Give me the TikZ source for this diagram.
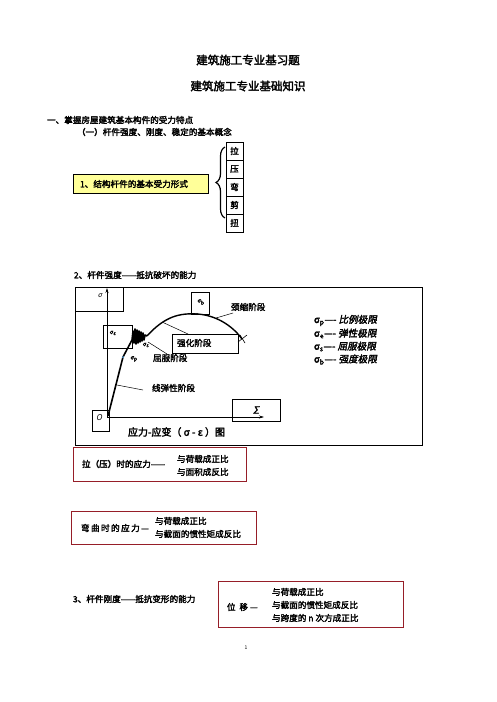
\documentclass[tikz,border=0pt]{standalone}
\usepackage{fontspec}
\setmainfont{Noto Sans CJK SC}[AutoFakeBold=2.4,AutoFakeSlant=0.2]
\usetikzlibrary{arrows.meta,decorations.pathreplacing}
\definecolor{boxred}{RGB}{150,30,40}
\definecolor{paleyellow}{RGB}{255,255,153}
\definecolor{dotblue}{RGB}{90,170,230}
\tikzset{
  every node/.style={inner sep=0pt,outer sep=0pt},
  ttl/.style={font=\fontsize{11.5}{13}\selectfont\bfseries},
  txt/.style={anchor=west,font=\fontsize{8.6}{10}\selectfont\bfseries},
  small/.style={font=\fontsize{6}{7}\selectfont\bfseries},
  legend/.style={anchor=west,font=\fontsize{9.6}{11}\selectfont\bfseries},
  frame/.style={draw,line width=0.6pt},
  cell/.style={draw,line width=0.6pt,minimum width=17pt,minimum height=18pt,font=\fontsize{8.6}{10}\selectfont\bfseries},
  redbox/.style={draw=boxred,line width=0.9pt},
  leader/.style={line width=0.5pt},
  curveline/.style={line width=1.6pt,line join=round},
  axis/.style={line width=0.6pt,-{Stealth[length=5pt,width=3pt]}},
}
\begin{document}
\begin{tikzpicture}[x=1pt,y=-1pt]
\useasboundingbox (0,0) rectangle (496,702);
% titles
\node[ttl] (t1) at (248,60) {建筑施工专业基习题};
\node[ttl] (t2) at (248,86) {建筑施工专业基础知识};
\node[txt] (h1) at (47,120) {一、掌握房屋建筑基本构件的受力特点};
\node[txt] (h2) at (77,132) {（一）杆件强度、刚度、稳定的基本概念};
% force forms
\node[draw,fill=paleyellow,line width=0.6pt,minimum width=135pt,minimum height=19pt] (yb) at (140.5,184) {};
\node[txt] (ybt) at (80,184) {1、结构杆件的基本受力形式};
\node[cell] (c1) at (234.5,151) {拉};
\node[cell] (c2) at (234.5,169) {压};
\node[cell] (c3) at (234.5,187) {弯};
\node[cell] (c4) at (234.5,205) {剪};
\node[cell] (c5) at (234.5,223) {扭};
\coordinate (brb) at (225,218);
\coordinate (brt) at (225,147);
\draw[decorate,decoration={brace,amplitude=9pt},line width=1.2pt] (brb) -- (brt);
% section 2
\node[txt] (h3) at (74,275) {2、杆件强度——抵抗破坏的能力};
\node[frame,minimum width=347pt,minimum height=158pt] (outer) at (248.5,366) {};
\node[frame,minimum width=48pt,minimum height=24pt] (sbox) at (99,299) {};
\node[small,font=\fontsize{7}{8}\selectfont\itshape] (slab) at (100,296) {σ};
\node[frame,minimum width=29pt,minimum height=23pt] (sebox) at (117.5,336.5) {};
\node[small] (selab) at (113,333) {σ\textsubscript{ε}};
\node[frame,minimum width=18pt,minimum height=22pt] (sbbox) at (200,303) {};
\node[small] (sblab) at (201,302) {σ\textsubscript{b}};
\node[frame,minimum width=66pt,minimum height=19pt] (qhbox) at (205,343.5) {};
\node[txt] (qhlab) at (177,343) {强化阶段};
\node[frame,minimum width=17pt,minimum height=21pt] (obox) at (100.5,420.5) {};
\node[font=\fontsize{8}{9}\selectfont\itshape] (olab) at (99,418) {O};
\node[frame,minimum width=48pt,minimum height=22pt] (ebox) at (256,410) {};
\node[font=\fontsize{10}{11}\selectfont\bfseries\itshape] (elab) at (256,410) {Σ};
% axes
\coordinate (orig) at (107,417);
\coordinate (ytop) at (107,288);
\coordinate (xend) at (264,417);
\draw[axis] (orig) -- (ytop);
\draw[axis] (orig) -- (xend);
% curve
\coordinate (p0) at (108,416);
\coordinate (pp) at (123,357);
\coordinate (pe) at (132,340);
\coordinate (pz) at (147,336);
\coordinate (pk) at (197,314);
\coordinate (pend) at (242,339);
\draw[curveline] (p0) -- (pp) -- (pe) -- (133,331) -- (134,343) -- (135,329) -- (136,344) -- (137,330) -- (138,343) -- (139,331) -- (140,342) -- (141,332) -- (142,341) -- (143,333) -- (144,340) -- (145,335) -- (pz);
\draw[line width=1.4pt] (pz) .. controls (165,316) and (180,313) .. (pk) .. controls (215,315) and (232,325) .. (pend);
\draw[line width=0.6pt] (238,342) -- (247,335);
\draw[line width=0.6pt] (240,335) -- (245,343);
\fill (pk) circle (1.2pt);
\fill[dotblue] (pp) circle (1pt);
\node[small] (splab) at (134,359) {σ\textsubscript{p}};
\node[small] (sslab) at (146,345) {σ\textsubscript{s}};
% stage labels
\node[txt] (qflab) at (153,358) {屈服阶段};
\node[txt] (jslab) at (231,307) {颈缩阶段};
\node[txt] (xtlab) at (152,388) {线弹性阶段};
\coordinate (lq1) at (148,342);
\coordinate (lq2) at (167,354);
\draw[leader] (lq1) -- (lq2);
\coordinate (lh1) at (162,322);
\coordinate (lh2) at (188,334);
\draw[leader] (lh1) -- (lh2);
\coordinate (lj1) at (216,318);
\coordinate (lj2) at (233,313);
\draw[leader] (lj1) -- (lj2);
\coordinate (lx1) at (117,385);
\coordinate (lx2) at (143,390);
\draw[leader] (lx1) -- (lx2);
% legend
\node[legend] (lg1) at (314,320.5) {σ\textsubscript{p}---- \textit{比例极限}};
\node[legend] (lg2) at (314,333.5) {σ\textsubscript{e}---- \textit{弹性极限}};
\node[legend] (lg3) at (314,346.5) {σ\textsubscript{s}---- \textit{屈服极限}};
\node[legend] (lg4) at (314,359.5) {σ\textsubscript{b}---- \textit{强度极限}};
\node[anchor=west,font=\fontsize{10}{12}\selectfont\bfseries] (cap) at (128,432) {应力-应变（ σ - ε ）图};
% red boxes
\node[redbox,minimum width=173pt,minimum height=34pt] (rb1) at (159.5,464) {};
\node[txt] (rb1a) at (82,464) {拉（压）时的应力——};
\node[txt] (rb1b) at (177,459) {与荷载成正比};
\node[txt] (rb1c) at (177,472) {与面积成反比};
\node[redbox,minimum width=185pt,minimum height=33pt] (rb2) at (163.5,527.5) {};
\node[txt] (rb2a) at (81,528) {弯\,曲\,时\,的\,应\,力\,—};
\node[txt] (rb2b) at (155,521) {与荷载成正比};
\node[txt] (rb2c) at (155,534) {与截面的惯性矩成反比};
% section 3
\node[txt] (h4) at (73,599) {3、杆件刚度——抵抗变形的能力};
\node[redbox,minimum width=185pt,minimum height=46pt] (rb3) at (310.5,604) {};
\node[txt] (rb3a) at (227,607) {位\ \ 移\ —};
\node[txt] (rb3b) at (272,592) {与荷载成正比};
\node[txt] (rb3c) at (272,605) {与截面的惯性矩成反比};
\node[txt] (rb3d) at (272,618) {与跨度的 n 次方成正比};
\node[font=\fontsize{5}{6}\selectfont] (pg) at (246,648) {1};
\end{tikzpicture}
\end{document}
